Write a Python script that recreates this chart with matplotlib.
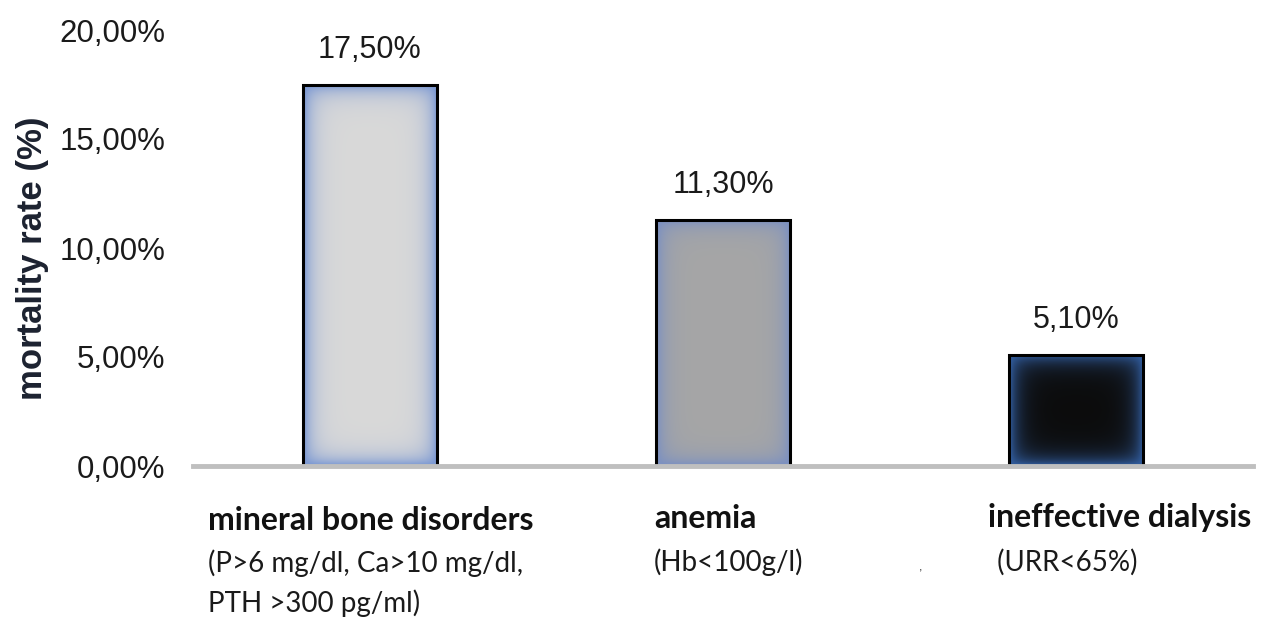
import numpy as np
import matplotlib
matplotlib.use("Agg")
import matplotlib.pyplot as plt
from matplotlib.colors import to_rgb

# ---- data ----
categories = ["mineral bone disorders", "anemia", "ineffective dialysis"]
subtitles = ["(P>6 mg/dl, Ca>10 mg/dl,\nPTH >300 pg/ml)", "(Hb<100g/l)", " (URR<65%)"]
values = [0.175, 0.113, 0.051]
value_labels = ["17,50%", "11,30%", "5,10%"]
yticks = [0.0, 0.05, 0.10, 0.15, 0.20]
ytick_labels = ["0,00%", "5,00%", "10,00%", "15,00%", "20,00%"]

face_colors = ["#d9d9d9", "#a6a6a6", "#0c0c0c"]
glow_colors = ["#7f9bd3", "#7d91c0", "#2f5896"]

W, H = 1265, 618
fig = plt.figure(figsize=(W / 100, H / 100), dpi=100)
ax = fig.add_axes([193 / W, (H - 466) / H, (1253 - 193) / W, (466 - 30) / H])

x = np.arange(len(categories))
ax.set_xlim(-0.5, 2.5)
ax.set_ylim(0, 0.20)

bars = ax.bar(x, values, width=0.38, color=face_colors, edgecolor="black",
              linewidth=2.2, zorder=3)

# inner glow gradient for each bar
fig.canvas.draw()
for b, fc, gc in zip(bars, face_colors, glow_colors):
    x0, y0, w, h = b.get_x(), b.get_y(), b.get_width(), b.get_height()
    p0 = ax.transData.transform((x0, y0))
    p1 = ax.transData.transform((x0 + w, y0 + h))
    pw = max(int(abs(p1[0] - p0[0])), 2)
    ph = max(int(abs(p1[1] - p0[1])), 2)
    xx = np.arange(pw) + 0.5
    yy = np.arange(ph) + 0.5
    dx = np.minimum(xx, pw - xx)[None, :]
    dy = np.minimum(yy, ph - yy)[:, None]
    # soft combination of edge distances
    fx = np.exp(-dx / 9.0)
    fy = np.exp(-dy / 9.0)
    g = 1 - (1 - fx) * (1 - fy)
    g = np.clip(g * 1.15, 0, 1)
    c0 = np.array(to_rgb(gc))
    c1 = np.array(to_rgb(fc))
    img = c0[None, None, :] * g[..., None] + c1[None, None, :] * (1 - g[..., None])
    im = ax.imshow(img, extent=(x0, x0 + w, y0, y0 + h), aspect="auto",
                   zorder=2.5, interpolation="bilinear")
    im.set_clip_path(b)
    b.set_facecolor("none")

# value labels
for xi, v, lab in zip(x, values, value_labels):
    ax.annotate(lab, (xi, v), xytext=(0, 25), textcoords="offset points",
                ha="center", va="center", fontsize=22,
                family="Liberation Sans", color="#1a1a1a")

# axes styling
for s in ["top", "right", "left"]:
    ax.spines[s].set_visible(False)
ax.spines["bottom"].set_color("#bfbfbf")
ax.spines["bottom"].set_linewidth(3.5)
ax.spines["bottom"].set_zorder(4)
ax.set_yticks(yticks)
ax.set_yticklabels(ytick_labels, family="Liberation Sans", fontsize=22.5,
                   color="#1a1a1a")
ax.tick_params(axis="y", length=0, pad=20)
ax.set_xticks([])

fig.text(33 / W, 1 - 258 / H, "mortality rate (%)", family="Liberation Sans",
         fontsize=25, fontweight="bold", color="#1c2230", rotation=90,
         ha="center", va="center")

# category labels (pixel positions converted to figure fraction)
cat_pos = [(208, 520), (654, 519), (988, 518)]
sub_pos = [(208, 563), (654, 562), (990, 562)]
for cat, sub, (cx, cy), (sx, sy) in zip(categories, subtitles, cat_pos, sub_pos):
    fig.text(cx / W, 1 - cy / H, cat, family="Lato", fontweight="bold",
             fontsize=23, ha="left", va="center", color="#111111")
    for k, line in enumerate(sub.split("\n")):
        fig.text(sx / W, 1 - (sy + 40 * k) / H, line, family="Lato",
                 fontsize=20, ha="left", va="center", color="#1a1a1a")

# small stray mark
fig.text(921 / W, 1 - 567 / H, ",", family="Liberation Sans", fontsize=9,
         ha="center", va="center", color="#333333")

fig.savefig("out.png", dpi=100)
